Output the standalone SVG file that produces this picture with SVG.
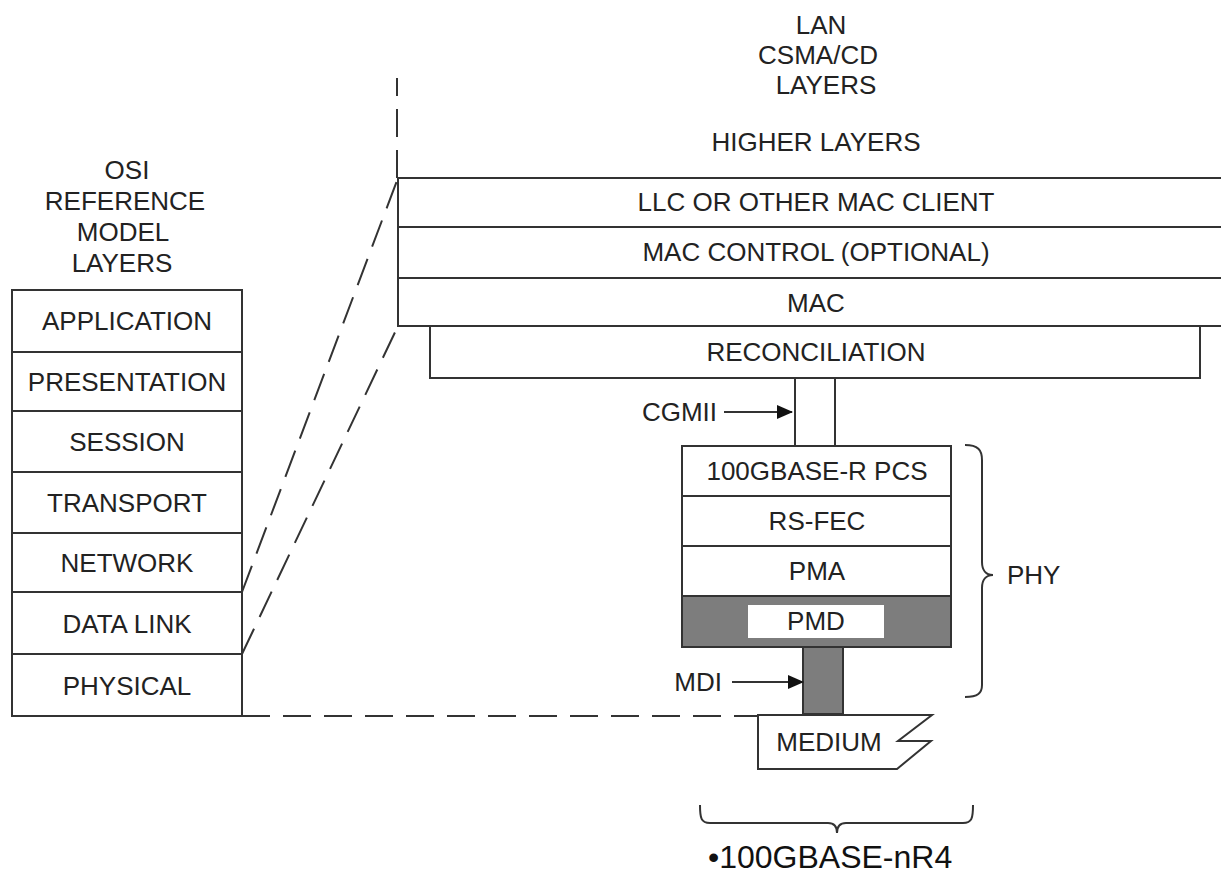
<svg xmlns="http://www.w3.org/2000/svg" width="1221" height="878" viewBox="0 0 1221 878">
<defs>
<style>
.t{font-family:"Liberation Sans",Arial,sans-serif;font-size:26px;fill:#222;text-anchor:middle}
.ln{stroke:#333;stroke-width:2;fill:none}
.box{stroke:#333;stroke-width:2;fill:#fff}
.dash{stroke:#333;stroke-width:2;fill:none;stroke-dasharray:28 13}
.grey{fill:#7d7d7d;stroke:#333;stroke-width:2}
</style>
<marker id="arr" markerUnits="userSpaceOnUse" markerWidth="16" markerHeight="14" refX="15" refY="7" orient="auto">
<path d="M0,0 L16,7 L0,14 Z" fill="#111"/>
</marker>
</defs>
<rect width="1221" height="878" fill="#fff"/>

<g id="osi-title">
<text class="t" x="127" y="179">OSI</text>
<text class="t" x="125" y="210">REFERENCE</text>
<text class="t" x="123" y="241">MODEL</text>
<text class="t" x="122" y="272">LAYERS</text>
</g>

<g id="osi-stack">
<rect class="box" x="12" y="290" width="230" height="426"/>
<path class="ln" d="M12,352H242M12,411H242M12,472H242M12,533H242M12,592H242M12,654H242"/>
</g>
<g id="osi-application"><text class="t" x="127" y="330">APPLICATION</text></g>
<g id="osi-presentation"><text class="t" x="127" y="391">PRESENTATION</text></g>
<g id="osi-session"><text class="t" x="127" y="451">SESSION</text></g>
<g id="osi-transport"><text class="t" x="127" y="512">TRANSPORT</text></g>
<g id="osi-network"><text class="t" x="127" y="572">NETWORK</text></g>
<g id="osi-datalink"><text class="t" x="127" y="633">DATA LINK</text></g>
<g id="osi-physical"><text class="t" x="127" y="695">PHYSICAL</text></g>

<g id="lan-title">
<text class="t" x="821" y="34">LAN</text>
<text class="t" x="818" y="64">CSMA/CD</text>
<text class="t" x="826" y="94">LAYERS</text>
</g>
<g id="higher-layers"><text class="t" x="816" y="151">HIGHER LAYERS</text></g>

<g id="lan-stack">
<rect class="box" x="398" y="178" width="840" height="148"/>
<path class="ln" d="M398,227H1230M398,278H1230"/>
</g>
<g id="llc"><text class="t" x="816" y="211">LLC OR OTHER MAC CLIENT</text></g>
<g id="mac-control"><text class="t" x="816" y="261">MAC CONTROL (OPTIONAL)</text></g>
<g id="mac"><text class="t" x="816" y="312">MAC</text></g>
<g id="reconciliation">
<path class="ln" d="M430,326V378H1200V326"/>
<text class="t" x="816" y="361">RECONCILIATION</text>
</g>

<g id="phy-stack">
<rect class="box" x="682" y="446" width="269" height="150"/>
<path class="ln" d="M682,496H951M682,546H951"/>
<text class="t" x="817" y="480">100GBASE-R PCS</text>
<text class="t" x="817" y="530">RS-FEC</text>
<text class="t" x="817" y="580">PMA</text>
</g>
<g id="pmd">
<rect class="grey" x="682" y="596" width="269" height="51"/>
<rect x="748" y="605" width="136" height="33" fill="#fff"/>
<text class="t" x="816" y="630">PMD</text>
</g>
<g id="mdi-stem">
<rect class="grey" x="803" y="647" width="40" height="67"/>
</g>
<g id="medium">
<path class="box" d="M758,715H932L898,741H931L897,769H758Z"/>
<text class="t" x="829" y="751">MEDIUM</text>
</g>

<g id="labels">
<text class="t" x="717" y="421" style="text-anchor:end">CGMII</text>
<text class="t" x="722" y="691" style="text-anchor:end">MDI</text>
<text class="t" x="1007" y="584" style="text-anchor:start">PHY</text>
<text class="t" x="708" y="868" style="text-anchor:start;font-size:32px;fill:#111">•100GBASE-nR4</text>
</g>

<g id="connectors">
<path class="dash" d="M397,178V78"/>
<path class="ln" d="M398,178V326"/>
<path class="dash" d="M242,592L398,178"/>
<path class="dash" d="M242,654L398,326"/>
<path class="dash" d="M242,716H758"/>
<path class="ln" d="M795,378V446M835,378V446"/>
<path class="ln" d="M724,412H792" marker-end="url(#arr)"/>
<path class="ln" d="M732,682H803" marker-end="url(#arr)"/>
<path class="ln" d="M965,445C978,445 982,450 982,460L982,562C982,570 986,575 993,575C986,575 982,580 982,588L982,685C982,693 978,697 965,697"/>
<path class="ln" d="M700,805C700,818 701,823 710,823L828,823C834,823 837,826 837,833C837,826 840,823 846,823L963,823C972,823 973,818 973,805"/>
</g>
</svg>
